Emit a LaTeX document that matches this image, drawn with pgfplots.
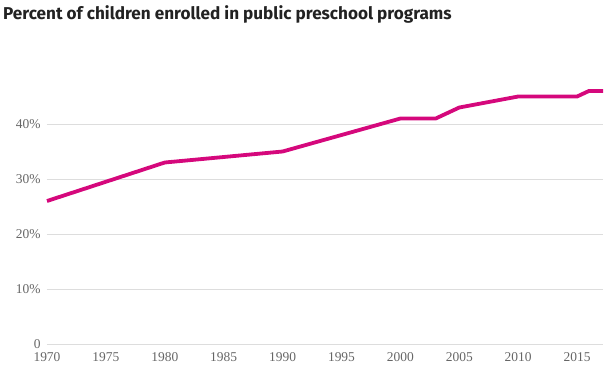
\documentclass[border=0pt]{standalone}
\usepackage{pgfplots}
\pgfplotsset{compat=1.18}
\usepackage{fontspec}
\setmainfont{Liberation Serif}
\newfontfamily\titlefont{Fira Sans}
\definecolor{linec}{HTML}{D5087C}
\definecolor{gridc}{HTML}{DDDDDD}
\definecolor{tickc}{HTML}{666666}
\definecolor{titlec}{HTML}{222222}
\begin{document}
\begin{tikzpicture}[x=1bp,y=1bp]
\path[use as bounding box] (-47bp,-25bp) rectangle (558bp,344bp);
\begin{axis}[
  at={(0,0)}, anchor=origin,
  scale only axis,
  width=556bp, height=275bp,
  xmin=1970, xmax=2017.2,
  ymin=0, ymax=50,
  axis line style={draw=none},
  tick style={draw=none},
  xtick={1970,1975,...,2015},
  ytick={0,10,20,30,40},
  yticklabels={0,10\%,20\%,30\%,40\%},
  ymajorgrids,
  grid style={gridc, line width=0.8bp},
  /pgf/number format/assume math mode=true,
  /pgf/number format/1000 sep={},
  ticklabel style={font=\fontsize{13.5}{13.5}\selectfont, text=tickc},
  xticklabel style={anchor=center, yshift=-13bp},
  yticklabel style={anchor=east, xshift=-3bp},
  clip=false,
]
\addplot[linec, line width=3.8bp, line join=round] coordinates {
  (1970,26) (1980,33) (1990,35) (2000,41) (2003,41) (2005,43)
  (2010,45) (2015,45) (2016,46) (2017.2,46)
};
\end{axis}
\node[anchor=base west, inner sep=0pt, text=titlec, font=\titlefont\bfseries\fontsize{17.2}{17.2}\selectfont] at (-44bp,324bp) {Percent of children enrolled in public preschool programs};
\end{tikzpicture}
\end{document}
